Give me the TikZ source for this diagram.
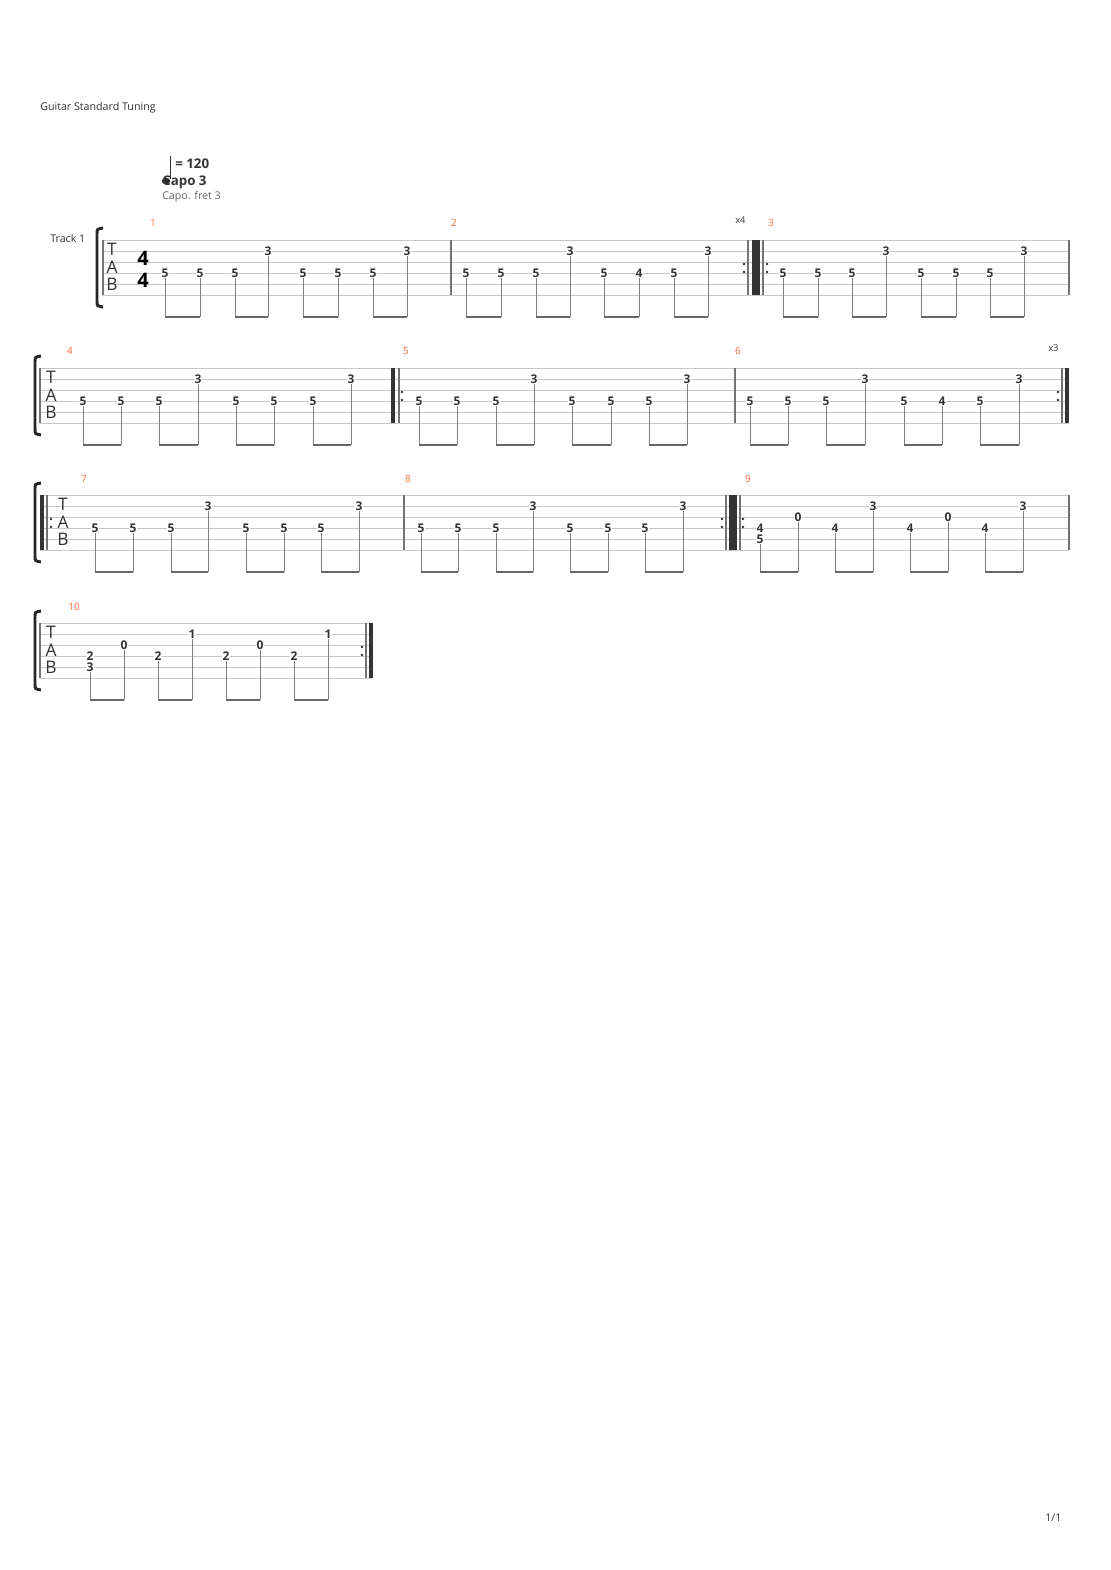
\documentclass[tikz,border=0pt]{standalone}
\usepackage{fontspec}
\setmainfont{Open Sans}
\definecolor{barnum}{HTML}{F26B3A}
\definecolor{ink}{HTML}{333333}
\tikzset{
  staffline/.style={draw=black!22, line width=0.6pt},
  barline/.style={draw=black!55, line width=0.8pt},
  thickbar/.style={draw=black!80, line width=3.2pt},
  fret/.style={font=\bfseries\fontsize{9}{9}\selectfont, text=ink, inner sep=0.3pt, fill=white},
  stem/.style={draw=black!50, line width=0.7pt},
  beam/.style={draw=black!60, line width=2.2pt},
  barno/.style={font=\fontsize{7.5}{8}\selectfont, text=barnum},
  tabletter/.style={font=\fontsize{13}{13}\selectfont, text=ink, inner sep=0pt},
  repdot/.style={circle, fill=ink, inner sep=0pt, minimum size=2pt},
  plain/.style={font=\fontsize{8}{9}\selectfont, text=ink, inner sep=0pt, anchor=west},
}
% staff: left x, right x, top y
\newcommand\tabstaff[3]{%
  \foreach \i in {0,...,5} \draw[staffline] (#1,#3+11*\i) -- (#2,#3+11*\i);
}
% bracket at x, staff top
\newcommand\tabbrace[2]{%
  \draw[line width=2.2pt, black!85] (#1+6,#2-12) .. controls (#1,#2-11) .. (#1,#2-6) -- (#1,#2+61) .. controls (#1,#2+66) .. (#1+6,#2+67);
}
% measure: name, top y, notes x/string/fret
\newcommand\tabmeasure[3]{%
  \foreach \x/\s/\f [count=\n] in {#3} {
    \node[fret] (#1n\n) at (\x,#2+11*\s-11) {\f};
    \coordinate (#1b\n) at (\x,#2+77);
    \draw[stem] (#1n\n.south) -- (#1b\n);
  }
  \foreach \a/\b in {1/2,3/4,5/6,7/8} \draw[beam] (#1b\a) -- (#1b\b);
}
% repeat dots at x, staff top
\newcommand\repdots[2]{%
  \node[repdot] at (#1,#2+24) {};
  \node[repdot] at (#1,#2+32) {};
}
\begin{document}
\begin{tikzpicture}[x=0.75pt, y=-0.75pt]
\useasboundingbox[fill=white] (0,0) rectangle (1110,1570);

% header
\node[plain] (title) at (40,108) {Guitar Standard Tuning};
\draw[black!80, line width=0.7pt] (170,156) -- (170,179);
\fill[black!85] (166,181) ellipse (4.2 and 3.2);
\node[plain, font=\bfseries\fontsize{10}{10}\selectfont] (tempo) at (175,164) {= 120};
\node[plain, font=\bfseries\fontsize{10}{10}\selectfont] (capo) at (162,182) {Capo 3};
\node[plain, text=black!60] (capofret) at (162,197) {Capo. fret 3};
\node[plain] (track) at (50,238) {Track 1};

% system 1
\tabstaff{103}{1069}{240}
\tabbrace{97}{240}
\draw[barline] (103,240) -- (103,295);
\node[tabletter] at (112,249) {T};
\node[tabletter] at (112,267) {A};
\node[tabletter] at (112,284) {B};
\node[font=\bfseries\fontsize{15}{15}\selectfont, inner sep=0pt] (tsig1) at (143,258) {4};
\node[font=\bfseries\fontsize{15}{15}\selectfont, inner sep=0pt] (tsig2) at (143,280) {4};
\node[barno] at (153,223) {1};
\tabmeasure{ma}{240}{165/4/5,200/4/5,235/4/5,268/2/3,303/4/5,338/4/5,373/4/5,407/2/3}
\draw[barline] (451,240) -- (451,295);
\node[barno] at (454,223) {2};
\tabmeasure{mb}{240}{466/4/5,501/4/5,536/4/5,570/2/3,604/4/5,639/4/4,674/4/5,708/2/3}
\repdots{744}{240}
\draw[barline] (748,240) -- (748,295);
\draw[thickbar, line width=6pt] (756,240) -- (756,295);
\draw[barline] (763,240) -- (763,295);
\repdots{767}{240}
\node[plain, font=\fontsize{7}{8}\selectfont] at (735,220) {x4};
\node[barno] at (771,223) {3};
\tabmeasure{mc}{240}{783/4/5,818/4/5,852/4/5,886/2/3,921/4/5,956/4/5,990/4/5,1024/2/3}
\draw[barline] (1069,240) -- (1069,295);

% system 2
\tabstaff{40}{1069}{368}
\tabbrace{35}{368}
\draw[barline] (40,368) -- (40,423);
\node[tabletter] at (51,377) {T};
\node[tabletter] at (51,395) {A};
\node[tabletter] at (51,412) {B};
\node[barno] at (70,351) {4};
\tabmeasure{md}{368}{83/4/5,121/4/5,159/4/5,198/2/3,236/4/5,274/4/5,313/4/5,351/2/3}
\draw[thickbar] (393,368) -- (393,423);
\draw[barline] (399,368) -- (399,423);
\repdots{402}{368}
\node[barno] at (406,351) {5};
\tabmeasure{me}{368}{419/4/5,457/4/5,496/4/5,534/2/3,572/4/5,611/4/5,649/4/5,687/2/3}
\draw[barline] (735,368) -- (735,423);
\node[barno] at (738,351) {6};
\tabmeasure{mf}{368}{750/4/5,788/4/5,826/4/5,865/2/3,904/4/5,942/4/4,980/4/5,1019/2/3}
\repdots{1058}{368}
\draw[barline] (1062,368) -- (1062,423);
\draw[thickbar] (1067,368) -- (1067,423);
\node[plain, font=\fontsize{7}{8}\selectfont] at (1048,348) {x3};

% system 3
\tabstaff{40}{1069}{495}
\tabbrace{35}{495}
\draw[thickbar] (42,495) -- (42,550);
\draw[barline] (47,495) -- (47,550);
\repdots{51}{495}
\node[tabletter] at (63,504) {T};
\node[tabletter] at (63,522) {A};
\node[tabletter] at (63,539) {B};
\node[barno] at (84,479) {7};
\tabmeasure{mg}{495}{95/4/5,133/4/5,171/4/5,208/2/3,246/4/5,284/4/5,321/4/5,359/2/3}
\draw[barline] (404,495) -- (404,550);
\node[barno] at (408,479) {8};
\tabmeasure{mh}{495}{421/4/5,458/4/5,496/4/5,533/2/3,570/4/5,608/4/5,645/4/5,683/2/3}
\repdots{722}{495}
\draw[barline] (726,495) -- (726,550);
\draw[thickbar, line width=6pt] (733,495) -- (733,550);
\draw[barline] (740,495) -- (740,550);
\repdots{743}{495}
\node[barno] at (748,479) {9};
\tabmeasure{mi}{495}{760/5/5,798/3/0,835/4/4,873/2/3,910/4/4,948/3/0,985/4/4,1023/2/3}
\node[fret] (mic) at (760,528) {4};
\draw[barline] (1069,495) -- (1069,550);

% system 4
\tabstaff{40}{372}{623}
\tabbrace{35}{623}
\draw[barline] (40,623) -- (40,678);
\node[tabletter] at (51,632) {T};
\node[tabletter] at (51,650) {A};
\node[tabletter] at (51,667) {B};
\node[barno] at (74,607) {10};
\tabmeasure{mj}{623}{90/5/3,124/3/0,158/4/2,192/2/1,226/4/2,260/3/0,294/4/2,328/2/1}
\node[fret] (mjc) at (90,656) {2};
\repdots{362}{623}
\draw[barline] (366,623) -- (366,678);
\draw[thickbar] (371,623) -- (371,678);

% page number
\node[plain] (page) at (1045,1518) {1/1};
\end{tikzpicture}
\end{document}
